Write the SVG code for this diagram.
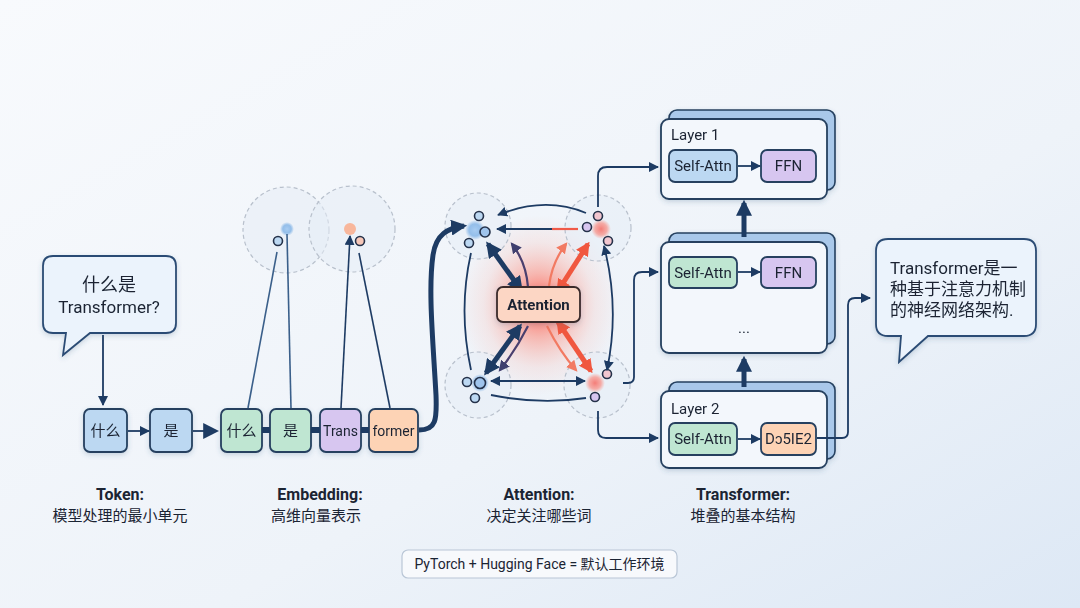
<svg xmlns="http://www.w3.org/2000/svg" width="1080" height="608" viewBox="0 0 1080 608">
<defs>
<linearGradient id="bg" x1="0" y1="0" x2="1" y2="1">
<stop offset="0" stop-color="#f8fafd"/>
<stop offset="0.6" stop-color="#eef3f9"/>
<stop offset="1" stop-color="#dde8f5"/>
</linearGradient>
<radialGradient id="glow" cx="0.5" cy="0.5" r="0.5">
<stop offset="0" stop-color="#ff3b2e" stop-opacity="0.85"/>
<stop offset="0.35" stop-color="#ff6a55" stop-opacity="0.45"/>
<stop offset="0.7" stop-color="#ff9a88" stop-opacity="0.15"/>
<stop offset="1" stop-color="#ff9a88" stop-opacity="0"/>
</radialGradient>
<radialGradient id="bdot" cx="0.5" cy="0.5" r="0.5">
<stop offset="0" stop-color="#a9cdf2"/>
<stop offset="0.6" stop-color="#7fb2e6" stop-opacity="0.8"/>
<stop offset="1" stop-color="#7fb2e6" stop-opacity="0"/>
</radialGradient>
<radialGradient id="rdot" cx="0.5" cy="0.5" r="0.5">
<stop offset="0" stop-color="#f47d78"/>
<stop offset="0.6" stop-color="#f79a92" stop-opacity="0.8"/>
<stop offset="1" stop-color="#f7a59c" stop-opacity="0"/>
</radialGradient>
<filter id="sh" x="-20%" y="-20%" width="140%" height="150%">
<feDropShadow dx="0" dy="2" stdDeviation="2.5" flood-color="#3a5a80" flood-opacity="0.22"/>
</filter>
<marker id="ah" viewBox="0 0 10 10" refX="9" refY="5" markerWidth="10" markerHeight="10" markerUnits="userSpaceOnUse" orient="auto-start-reverse">
<path d="M0,0 L10,5 L0,10 z" fill="#1d3b63"/>
</marker>
<marker id="ahL" viewBox="0 0 10 10" refX="8" refY="5" markerWidth="16" markerHeight="16" markerUnits="userSpaceOnUse" orient="auto-start-reverse">
<path d="M0,0 L10,5 L0,10 z" fill="#1d3b63"/>
</marker>
<marker id="ahR" viewBox="0 0 10 10" refX="8" refY="5" markerWidth="14" markerHeight="14" markerUnits="userSpaceOnUse" orient="auto-start-reverse">
<path d="M0,0 L10,5 L0,10 z" fill="#f0573f"/>
</marker>
<marker id="ahP" viewBox="0 0 10 10" refX="8" refY="5" markerWidth="11" markerHeight="11" markerUnits="userSpaceOnUse" orient="auto-start-reverse">
<path d="M0,0 L10,5 L0,10 z" fill="#3f3f6e"/>
</marker>
<marker id="ahR2" viewBox="0 0 10 10" refX="8" refY="5" markerWidth="11" markerHeight="11" markerUnits="userSpaceOnUse" orient="auto-start-reverse">
<path d="M0,0 L10,5 L0,10 z" fill="#f27a62"/>
</marker>
</defs>
<style>
.t{font-family:"Roboto","Liberation Sans","Noto Sans CJK SC",sans-serif;fill:#1b2433;}
.node{stroke:#25405f;stroke-width:1.8;}
.blue{fill:#bcd8f2;}
.green{fill:#bfe6d2;}
.purple{fill:#d7c6f0;}
.orange{fill:#fdd3b5;}
.bub{fill:#ebf3fc;stroke:#2c4c74;stroke-width:1.8;}
.ring{fill:#e6edf5;fill-opacity:0.55;stroke:#b8c0cc;stroke-width:1.2;stroke-dasharray:4 3;}
.ln{fill:none;stroke:#1d3b63;stroke-width:1.8;}
.dot{stroke:#25324a;stroke-width:1.6;}
.lbl{font-size:16px;font-weight:700;text-anchor:middle;}
.sub{font-size:15px;text-anchor:middle;}
.back{fill:#a9c8ea;stroke:#25405f;stroke-width:1.6;}
.front{fill:#f3f7fc;stroke:#25405f;stroke-width:1.8;}
.nt{font-size:15px;text-anchor:middle;}
</style>
<rect width="1080" height="608" fill="url(#bg)"/>

<!-- attention glow -->
<g id="attn-glow">
<ellipse cx="539" cy="305" rx="80" ry="90" fill="url(#glow)"/>
</g>

<!-- embedding rings -->
<g id="emb-ring-1">
<circle class="ring" cx="286" cy="230" r="43"/>
<circle cx="287" cy="229" r="7" fill="url(#bdot)"/>
<circle class="dot" cx="278" cy="241" r="4.5" fill="#bcd8f2"/>
</g>
<g id="emb-ring-2">
<circle class="ring" cx="352" cy="229" r="43"/>
<circle cx="350" cy="229" r="6" fill="#f8b79c"/>
<circle class="dot" cx="360" cy="241" r="4.5" fill="#f6c7b8"/>
</g>

<!-- attention rings -->
<g id="attn-tl">
<circle class="ring" cx="478" cy="226" r="33"/>
<circle cx="475" cy="230" r="10" fill="url(#bdot)"/>
<circle class="dot" cx="479" cy="216" r="4.5" fill="#bcd8f2"/>
<circle class="dot" cx="485" cy="232" r="5" fill="#9fc4ec"/>
<circle class="dot" cx="469" cy="243" r="4.5" fill="#bcd8f2"/>
</g>
<g id="attn-tr">
<circle class="ring" cx="598" cy="228" r="33"/>
<circle cx="601" cy="229" r="10" fill="url(#rdot)"/>
<circle class="dot" cx="598" cy="216" r="4.5" fill="#f2c6cf"/>
<circle class="dot" cx="587" cy="227" r="4.5" fill="#d7c6f0"/>
<circle class="dot" cx="608" cy="241" r="4.5" fill="#f2c6cf"/>
</g>
<g id="attn-bl">
<circle class="ring" cx="478" cy="385" r="33"/>
<circle cx="480" cy="383" r="9" fill="url(#bdot)"/>
<circle class="dot" cx="480" cy="383" r="5.5" fill="#9fc4ec"/>
<circle class="dot" cx="467" cy="382" r="4.5" fill="#bcd8f2"/>
<circle class="dot" cx="475" cy="398" r="4.5" fill="#bcd8f2"/>
</g>
<g id="attn-br">
<circle class="ring" cx="597" cy="385" r="33"/>
<circle cx="595" cy="383" r="10" fill="url(#rdot)"/>
<circle class="dot" cx="607" cy="374" r="4.5" fill="#f2c6cf"/>
<circle class="dot" cx="595" cy="397" r="4.5" fill="#d7c6f0"/>
</g>

<!-- tokens -->
<g id="tok-shenme" filter="url(#sh)">
<rect class="node blue" x="84" y="409" width="43" height="43" rx="6"/>
<text class="t nt" x="105.5" y="436">什么</text>
</g>
<g id="tok-shi" filter="url(#sh)">
<rect class="node blue" x="150" y="409" width="42" height="43" rx="6"/>
<text class="t nt" x="171" y="436">是</text>
</g>
<g id="emb-shenme" filter="url(#sh)">
<rect class="node green" x="221" y="409" width="41" height="43" rx="6"/>
<text class="t nt" x="241.5" y="436">什么</text>
</g>
<g id="emb-shi" filter="url(#sh)">
<rect class="node green" x="270" y="409" width="41" height="43" rx="6"/>
<text class="t nt" x="290.5" y="436">是</text>
</g>
<g id="emb-trans" filter="url(#sh)">
<rect class="node purple" x="320" y="409" width="41" height="43" rx="6"/>
<text class="t" x="340.5" y="436" font-size="14" text-anchor="middle">Trans</text>
</g>
<g id="emb-former" filter="url(#sh)">
<rect class="node orange" x="369" y="409" width="49" height="43" rx="6"/>
<text class="t" x="393.5" y="436" font-size="14" text-anchor="middle">former</text>
</g>

<!-- transformer layers -->
<g id="layer-1" filter="url(#sh)">
<rect class="back" x="669" y="110" width="166" height="80" rx="8"/>
<rect class="front" x="661" y="119" width="166" height="80" rx="8"/>
<text class="t" x="671" y="140" font-size="15">Layer 1</text>
<rect class="node blue" x="669" y="150" width="68" height="32" rx="6"/>
<text class="t nt" x="703" y="171">Self-Attn</text>
<rect class="node purple" x="761" y="150" width="55" height="32" rx="6"/>
<text class="t nt" x="788.5" y="171">FFN</text>
</g>
<g id="layer-mid" filter="url(#sh)">
<rect class="back" x="669" y="233" width="166" height="111" rx="8"/>
<rect class="front" x="661" y="242" width="166" height="111" rx="8"/>
<rect class="node green" x="669" y="257" width="68" height="31" rx="6"/>
<text class="t nt" x="703" y="278">Self-Attn</text>
<rect class="node purple" x="761" y="257" width="55" height="31" rx="6"/>
<text class="t nt" x="788.5" y="278">FFN</text>
<text class="t nt" x="744" y="333">...</text>
</g>
<g id="layer-2" filter="url(#sh)">
<rect class="back" x="669" y="382" width="166" height="77" rx="8"/>
<rect class="front" x="661" y="391" width="166" height="77" rx="8"/>
<text class="t" x="671" y="414" font-size="15">Layer 2</text>
<rect class="node green" x="669" y="423" width="68" height="32" rx="6"/>
<text class="t nt" x="703" y="444">Self-Attn</text>
<rect class="node orange" x="761" y="423" width="55" height="32" rx="6"/>
<text class="t nt" x="788.5" y="444">Dɔ5IE2</text>
</g>

<!-- connectors -->
<g id="connectors">
<path class="ln" d="M103,335 V405" marker-end="url(#ah)"/>
<path class="ln" d="M128,431 H149" marker-end="url(#ah)"/>
<path class="ln" d="M193,431 H216" stroke-width="6" marker-end="url(#ahL)"/>
<path d="M262,430 H270 M311,430 H320 M361,430 H369" stroke="#1d3b63" stroke-width="6"/>
<path d="M248,408 L277,252" stroke="#3a5f8a" stroke-width="1.6" fill="none"/>
<path d="M291,408 L287,234" stroke="#3a5f8a" stroke-width="1.6" fill="none"/>
<path d="M341,408 L350,236" stroke="#1d3b63" stroke-width="1.6" fill="none" marker-end="url(#ah)"/>
<path d="M390,408 L359,253" stroke="#1d3b63" stroke-width="1.6" fill="none"/>
<path d="M419,430 C436,430 437,420 436,395 C433,340 428,290 433,255 C436,234 448,228 464,226" fill="none" stroke="#1d3b63" stroke-width="5" marker-end="url(#ahL)"/>
<path d="M586,213 Q545,196 498,215" class="ln" stroke-width="2.2" marker-end="url(#ah)"/>
<path d="M577,229 L497,229" fill="none" stroke="#1d3b63" stroke-width="2.2" marker-end="url(#ah)"/>
<path d="M578,229 L552,229" stroke="#f05a48" stroke-width="2.2"/>
<path d="M491,381 L585,381" class="ln" stroke-width="2" marker-start="url(#ah)" marker-end="url(#ah)"/>
<path d="M491,395 Q540,405 586,398" class="ln" stroke-width="2.2"/>
<path d="M471,253 Q458,310 471,370" class="ln" stroke-width="2"/>
<path d="M604,246 Q620,308 607,370" class="ln" stroke-width="2" marker-start="url(#ah)" marker-end="url(#ah)"/>
<path d="M488,244 L521,290" stroke="#1d3b63" stroke-width="5" marker-start="url(#ahL)" marker-end="url(#ahL)"/>
<path d="M512,244 Q526,262 528,287" fill="none" stroke="#4a3f6e" stroke-width="2.2" marker-start="url(#ahP)"/>
<path d="M588,244 L558,291" stroke="#f0573f" stroke-width="5" marker-start="url(#ahR)" marker-end="url(#ahR)"/>
<path d="M566,244 Q552,262 549,286" fill="none" stroke="#f27a62" stroke-width="2.2" marker-start="url(#ahR2)"/>
<path d="M520,326 L486,373" stroke="#1d3b63" stroke-width="5" marker-start="url(#ahL)" marker-end="url(#ahL)"/>
<path d="M528,326 Q516,350 500,370" fill="none" stroke="#4a3f6e" stroke-width="2.2" marker-end="url(#ahP)"/>
<path d="M558,322 L591,371" stroke="#f0573f" stroke-width="5" marker-start="url(#ahR)" marker-end="url(#ahR)"/>
<path d="M547,326 Q560,352 576,370" fill="none" stroke="#f27a62" stroke-width="2.2" marker-end="url(#ahR2)"/>
<path class="ln" d="M598,207 V176 Q598,167 607,167 H658" marker-end="url(#ah)"/>
<path class="ln" d="M623,383 H628 Q634,383 634,377 V280 Q634,272 642,272 H658" marker-end="url(#ah)"/>
<path class="ln" d="M598,411 V430 Q598,438 606,438 H658" marker-end="url(#ah)"/>
<path d="M744,237 V203" stroke="#1d3b63" stroke-width="5" marker-end="url(#ahL)"/>
<path d="M744,387 V359" stroke="#1d3b63" stroke-width="5" marker-end="url(#ahL)"/>
<path class="ln" d="M738,166 H760" marker-end="url(#ah)"/>
<path class="ln" d="M738,272 H760" marker-end="url(#ah)"/>
<path class="ln" d="M738,439 H760" marker-end="url(#ah)"/>
<path class="ln" d="M817,438 H842 Q848,438 848,432 V305 Q848,298 855,298 H870" marker-end="url(#ah)"/>
</g>

<g id="attn-box" filter="url(#sh)">
<rect x="497" y="287" width="83" height="35" rx="6" fill="#fcd6c4" stroke="#3a2a2a" stroke-width="1.8"/>
<text class="t" x="538.5" y="310" font-size="15" font-weight="700" text-anchor="middle">Attention</text>
</g>

<!-- question bubble -->
<g id="bubble-q" filter="url(#sh)">
<path class="bub" d="M53,256 H166 Q176,256 176,266 V323 Q176,333 166,333 H90 L63,355 L66,333 H53 Q43,333 43,323 V266 Q43,256 53,256 Z"/>
<text class="t" x="109" y="291" font-size="18" text-anchor="middle">什么是</text>
<text class="t" x="109" y="313" font-size="17" text-anchor="middle">Transformer?</text>
</g>

<!-- answer bubble -->
<g id="bubble-a" filter="url(#sh)">
<path class="bub" d="M888,239 H1024 Q1036,239 1036,251 V324 Q1036,336 1024,336 H928 L899,362 L901,336 H888 Q876,336 876,324 V251 Q876,239 888,239 Z"/>
<text class="t" x="890" y="274" font-size="17">Transformer是一</text>
<text class="t" x="890" y="295" font-size="17">种基于注意力机制</text>
<text class="t" x="890" y="316" font-size="17">的神经网络架构.</text>
</g>

<!-- bottom labels -->
<g id="label-token">
<text class="t lbl" x="120" y="500">Token:</text>
<text class="t sub" x="120" y="521">模型处理的最小单元</text>
</g>
<g id="label-embedding">
<text class="t lbl" x="320" y="500">Embedding:</text>
<text class="t sub" x="316" y="521">高维向量表示</text>
</g>
<g id="label-attention">
<text class="t lbl" x="539" y="500">Attention:</text>
<text class="t sub" x="539" y="521">决定关注哪些词</text>
</g>
<g id="label-transformer">
<text class="t lbl" x="743" y="500">Transformer:</text>
<text class="t sub" x="743" y="521">堆叠的基本结构</text>
</g>
<g id="footer">
<rect x="402" y="550" width="275" height="28" rx="6" fill="#f7f9fc" stroke="#b9c6d6" stroke-width="1.2"/>
<text class="t" x="539.5" y="569" font-size="14" text-anchor="middle">PyTorch + Hugging Face = 默认工作环境</text>
</g>
</svg>
